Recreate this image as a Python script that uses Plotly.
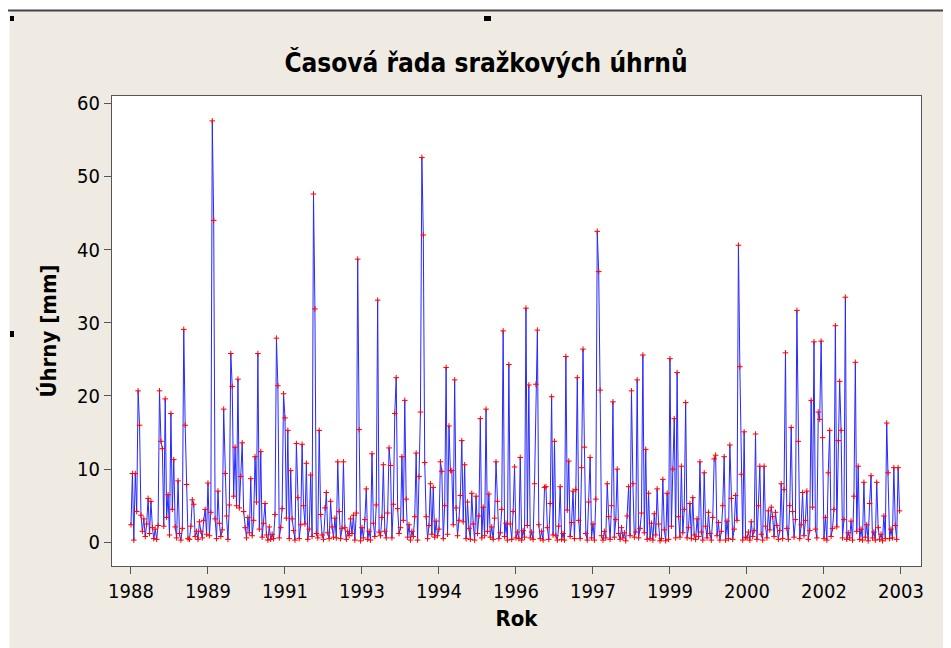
import plotly.graph_objects as go

# Dekadal precipitation totals [mm], 36 values per year
y1988 = [2.4, 9.4, 0.3, 9.4, 4.2, 20.7, 16.0, 3.7, 1.5, 3.2, 0.8, 2.5, 6.0, 1.2, 5.6, 2.0, 0.5, 1.8,
         0.4, 2.3, 20.7, 13.8, 12.8, 2.2, 19.6, 3.4, 6.5, 1.0, 17.6, 4.5, 11.3, 2.1, 0.6, 8.4, 1.2, 0.3]
y1989 = [1.9, 29.1, 16.0, 7.9, 0.5, 0.4, 2.2, 5.8, 5.2, 0.8, 1.5, 0.4, 2.8, 1.5, 0.6, 3.0, 4.5, 1.1,
         8.1, 0.9, 4.1, 57.6, 44.0, 3.2, 0.5, 7.0, 2.6, 0.8, 1.7, 18.2, 9.4, 3.6, 0.4, 5.1, 25.8, 21.3]
y1990 = [6.3, 13.0, 5.0, 22.3, 4.7, 9.0, 13.6, 4.2, 2.0, 0.6, 3.4, 1.3, 8.7, 0.9, 3.0, 11.7, 5.5, 25.8,
         1.8, 12.4, 0.7, 2.6, 5.3, 1.0, 0.3, 2.1, 0.4, 1.1, 0.5, 3.8, 27.9, 21.4, 0.6, 2.0, 4.6, 20.3]
y1991 = [17.0, 3.3, 15.3, 0.5, 9.8, 3.2, 1.6, 0.3, 13.5, 6.1, 0.5, 2.4, 13.4, 5.0, 2.5, 10.8, 0.4, 1.8,
         9.2, 0.8, 47.6, 31.9, 1.2, 0.6, 15.3, 3.8, 1.0, 0.4, 4.7, 6.8, 1.3, 0.5, 5.6, 2.1, 0.7, 3.3]
y1992 = [0.6, 11.0, 4.2, 0.5, 1.9, 11.0, 2.0, 0.4, 1.5, 0.9, 3.2, 1.2, 3.7, 0.3, 4.0, 38.7, 15.4, 0.2,
         2.0, 0.6, 3.1, 7.3, 0.4, 1.5, 0.3, 12.1, 2.6, 0.8, 5.1, 33.1, 1.4, 0.9, 3.4, 10.6, 1.5, 0.6]
y1993 = [4.0, 12.9, 10.5, 0.6, 5.2, 17.6, 22.5, 4.6, 1.2, 2.0, 11.7, 3.0, 19.4, 5.9, 0.7, 2.4, 0.3, 1.5,
         0.8, 3.5, 12.2, 0.3, 9.0, 17.8, 52.6, 42.0, 10.9, 3.5, 0.5, 2.3, 8.0, 1.1, 7.5, 0.7, 2.9, 0.9]
y1994 = [1.8, 11.0, 9.7, 0.5, 5.0, 23.9, 1.1, 15.9, 9.8, 9.8, 2.4, 22.2, 4.7, 0.9, 3.0, 6.4, 13.9, 2.8,
         10.6, 0.5, 5.5, 1.9, 0.4, 6.7, 2.5, 0.3, 6.3, 1.2, 3.6, 16.9, 0.6, 4.8, 0.9, 18.2, 1.5, 6.6]
y1995 = [0.7, 2.1, 0.4, 3.3, 11.0, 5.6, 0.5, 1.3, 4.5, 28.9, 0.8, 2.6, 0.3, 24.3, 2.5, 0.4, 4.2, 10.3,
         0.6, 1.4, 0.5, 11.6, 0.3, 1.6, 0.7, 32.0, 2.3, 21.5, 0.6, 1.4, 0.4, 8.0, 21.6, 29.0, 2.4, 0.5]
y1996 = [1.5, 0.3, 7.5, 7.6, 2.0, 0.4, 5.3, 19.9, 1.0, 13.8, 0.9, 0.3, 2.2, 7.6, 0.4, 1.2, 0.3, 25.4,
         4.4, 11.1, 0.8, 2.7, 7.0, 0.5, 7.2, 22.5, 3.0, 0.5, 10.2, 26.4, 13.0, 1.2, 0.3, 5.5, 11.6, 0.6]
y1997 = [2.5, 0.3, 5.9, 42.5, 37.0, 20.8, 0.9, 0.3, 1.5, 0.6, 8.0, 3.5, 0.4, 5.0, 19.2, 0.7, 3.1, 10.0,
         1.2, 0.4, 2.0, 0.6, 1.3, 0.2, 3.6, 7.6, 0.9, 20.7, 8.0, 0.7, 1.4, 22.2, 0.6, 1.9, 4.0, 25.6]
y1998 = [1.3, 12.7, 0.4, 6.7, 0.5, 2.6, 0.3, 3.9, 1.0, 7.3, 2.5, 0.2, 0.5, 8.6, 1.7, 0.2, 6.7, 0.4,
         25.1, 2.2, 10.0, 16.9, 0.6, 23.2, 3.5, 0.7, 10.4, 1.3, 4.5, 19.1, 0.6, 2.0, 5.3, 0.5, 6.1, 1.0]
y1999 = [0.4, 3.2, 0.8, 11.0, 1.4, 0.3, 9.5, 2.2, 0.6, 4.1, 1.2, 0.3, 3.4, 11.4, 11.9, 0.9, 2.7, 0.3,
         1.5, 5.0, 11.7, 0.3, 2.9, 0.5, 13.3, 6.0, 0.4, 1.8, 6.4, 3.0, 40.6, 24.0, 9.3, 0.3, 15.1, 0.7]
y2000 = [0.6, 1.4, 0.3, 2.8, 0.8, 1.6, 14.8, 0.4, 5.0, 10.4, 1.1, 0.3, 10.4, 2.2, 0.6, 4.3, 1.7, 4.8,
         3.5, 0.8, 4.1, 2.3, 0.4, 1.6, 8.0, 0.5, 7.2, 25.9, 1.9, 0.4, 5.0, 15.7, 4.2, 0.7, 3.1, 31.7]
y2001 = [13.8, 0.5, 2.4, 6.8, 0.9, 3.0, 7.0, 0.4, 1.6, 19.4, 4.8, 27.4, 1.8, 0.6, 17.8, 16.8, 27.5, 14.3,
         0.5, 3.4, 0.3, 9.5, 15.3, 0.8, 1.9, 4.5, 29.6, 2.1, 13.9, 22.0, 15.3, 0.6, 3.1, 33.5, 0.4, 1.3]
y2002 = [0.6, 2.9, 0.3, 6.3, 24.6, 1.5, 10.4, 0.4, 1.8, 0.3, 8.2, 0.7, 2.4, 0.2, 5.3, 9.1, 0.6, 1.4,
         0.3, 8.2, 2.0, 0.4, 1.1, 0.2, 3.6, 0.5, 16.3, 9.5, 0.5, 1.8, 0.6, 10.2, 2.3, 0.4, 10.2, 4.3]

years = list(range(1988, 2003))
yearly = [y1988, y1989, y1990, y1991, y1992, y1993, y1994, y1995, y1996, y1997,
          y1998, y1999, y2000, y2001, y2002]

tick_labels = ["1988", "1989", "1991", "1993", "1994", "1996", "1997", "1999", "2000", "2002", "2003"]
y_ticks = [0, 10, 20, 30, 40, 50, 60]

# build time axis (each year split into 36 dekads)
xs, ys = [], []
for yr, vals in zip(years, yearly):
    for k, v in enumerate(vals):
        xs.append(yr + k / 36.0)
        ys.append(v)

tick_vals = [1988 + 1.5 * k for k in range(len(tick_labels))]

# page body adds an 8 px margin; the figure fills the rest of the window
OFF = 8
W, H = 951 - OFF, 648 - OFF
ML, MR, MT, MB = 104, 30, 88, 82
PW, PH = W - ML - MR, H - MT - MB


def px(x):  # screen x -> paper
    return (x - OFF - ML) / PW


def py(y):  # screen y -> paper
    return (H - MB - (y - OFF)) / PH


FONT = "DejaVu Sans Condensed, DejaVu Sans, Liberation Sans, sans-serif"

fig = go.Figure()
fig.add_trace(go.Scatter(
    x=xs, y=ys, mode="lines+markers",
    line=dict(color="rgb(40,40,255)", width=1),
    marker=dict(symbol="cross-thin", size=4, color="red",
                line=dict(color="red", width=1)),
    showlegend=False, hoverinfo="x+y",
))

shapes = [
    dict(type="rect", xref="paper", yref="paper", x0=px(OFF), x1=px(951), y0=py(OFF), y1=py(11),
         fillcolor="white", line=dict(width=0), layer="below"),
    dict(type="rect", xref="paper", yref="paper", x0=px(OFF), x1=px(9.5), y0=py(OFF), y1=py(648),
         fillcolor="white", line=dict(width=0), layer="below"),
    dict(type="line", xref="paper", yref="paper", x0=px(OFF), x1=px(951), y0=py(10.5), y1=py(10.5),
         line=dict(color="#444444", width=2)),
    dict(type="rect", xref="paper", yref="paper", x0=px(10), x1=px(14), y0=py(16), y1=py(21),
         fillcolor="black", line=dict(width=0)),
    dict(type="rect", xref="paper", yref="paper", x0=px(484), x1=px(491), y0=py(16), y1=py(21),
         fillcolor="black", line=dict(width=0)),
    dict(type="rect", xref="paper", yref="paper", x0=px(10), x1=px(14), y0=py(331), y1=py(337),
         fillcolor="black", line=dict(width=0)),
]

fig.update_layout(
    width=W, height=H,
    margin=dict(l=ML, r=MR, t=MT, b=MB, pad=0),
    paper_bgcolor="rgb(239,235,226)",
    plot_bgcolor="white",
    font=dict(family=FONT, size=20, color="black"),
    title=dict(text="<b>Časová řada sražkových úhrnů</b>", x=(486 - OFF) / W, xanchor="center",
               y=1 - (63 - OFF) / H, yanchor="middle", font=dict(family=FONT, size=26)),
    shapes=shapes,
)

fig.update_xaxes(
    range=[1987.63, 2003.39], tickvals=tick_vals, ticktext=tick_labels,
    ticks="outside", ticklen=7, tickcolor="#555555", showgrid=False, zeroline=False,
    showline=True, linecolor="#555555", linewidth=1, mirror=True,
    title=dict(text="<b>Rok</b>", font=dict(family=FONT, size=22), standoff=8),
    tickfont=dict(family=FONT, size=20),
)
fig.update_yaxes(
    range=[-3.24, 61.0], tickvals=y_ticks,
    ticks="outside", ticklen=7, tickcolor="#555555", showgrid=False, zeroline=False,
    showline=True, linecolor="#555555", linewidth=1, mirror=True,
    title=dict(text="<b>Úhrny [mm]</b>", font=dict(family=FONT, size=22), standoff=14),
    tickfont=dict(family=FONT, size=20),
)

fig.write_html("out.html")
